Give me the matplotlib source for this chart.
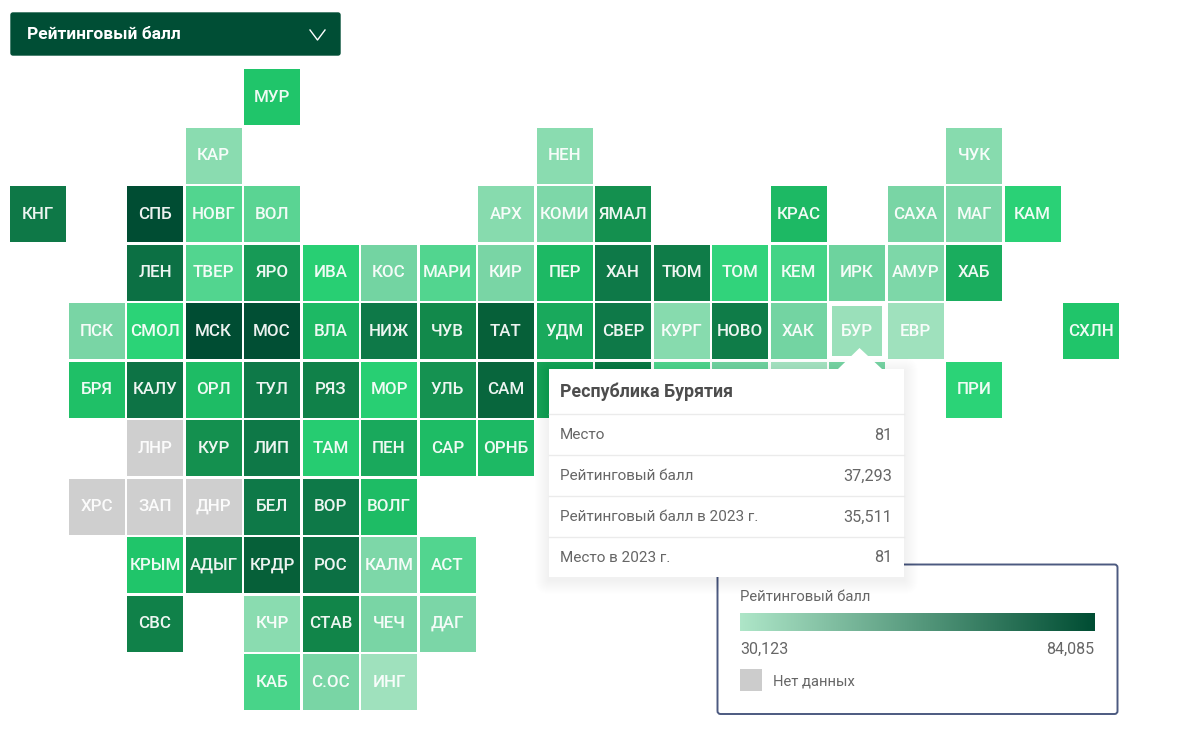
import numpy as np
import matplotlib
matplotlib.use('Agg')
import matplotlib.pyplot as plt
from matplotlib.colors import LinearSegmentedColormap, Normalize
from matplotlib.patches import FancyBboxPatch, Polygon, Rectangle

plt.rcParams['font.family'] = ['Roboto', 'DejaVu Sans']

# Data (grid position of each region, scores)
# labels of the six tiles behind the tooltip cannot be seen, so they stay empty
tile_codes = ['МУР',
              'КАР', 'НЕН', 'ЧУК',
              'КНГ', 'СПБ', 'НОВГ', 'ВОЛ', 'АРХ', 'КОМИ', 'ЯМАЛ', 'КРАС', 'САХА', 'МАГ', 'КАМ',
              'ЛЕН', 'ТВЕР', 'ЯРО', 'ИВА', 'КОС', 'МАРИ', 'КИР', 'ПЕР', 'ХАН', 'ТЮМ', 'ТОМ', 'КЕМ', 'ИРК', 'АМУР', 'ХАБ',
              'ПСК', 'СМОЛ', 'МСК', 'МОС', 'ВЛА', 'НИЖ', 'ЧУВ', 'ТАТ', 'УДМ', 'СВЕР', 'КУРГ', 'НОВО', 'ХАК', 'БУР', 'ЕВР', 'СХЛН',
              'БРЯ', 'КАЛУ', 'ОРЛ', 'ТУЛ', 'РЯЗ', 'МОР', 'УЛЬ', 'САМ', '', '', '', '', '', '', 'ПРИ',
              'ЛНР', 'КУР', 'ЛИП', 'ТАМ', 'ПЕН', 'САР', 'ОРНБ',
              'ХРС', 'ЗАП', 'ДНР', 'БЕЛ', 'ВОР', 'ВОЛГ',
              'КРЫМ', 'АДЫГ', 'КРДР', 'РОС', 'КАЛМ', 'АСТ',
              'СВС', 'КЧР', 'СТАВ', 'ЧЕЧ', 'ДАГ',
              'КАБ', 'С.ОС', 'ИНГ']
tile_cols = [4,
             3, 9, 16,
             0, 2, 3, 4, 8, 9, 10, 13, 15, 16, 17,
             2, 3, 4, 5, 6, 7, 8, 9, 10, 11, 12, 13, 14, 15, 16,
             1, 2, 3, 4, 5, 6, 7, 8, 9, 10, 11, 12, 13, 14, 15, 18,
             1, 2, 3, 4, 5, 6, 7, 8, 9, 10, 11, 12, 13, 14, 16,
             2, 3, 4, 5, 6, 7, 8,
             1, 2, 3, 4, 5, 6,
             2, 3, 4, 5, 6, 7,
             2, 4, 5, 6, 7,
             4, 5, 6]
tile_rows = [0] + [1] * 3 + [2] * 11 + [3] * 15 + [4] * 16 + [5] * 15 + [6] * 7 + [7] * 6 + [8] * 6 + [9] * 5 + [10] * 3
tile_scores = [58,
               40.5, 40.5, 41,
               73, 84, 50, 49, 41, 43, 68, 60, 44, 43, 54.5,
               75, 50, 66, 55, 45, 50, 44, 60, 72.5, 72, 53.5, 51.5, 46, 43, 62,
               44, 54, 84, 83.5, 60, 72.5, 69.5, 80, 63, 72.5, 41, 72, 45, 37.293, 36, 58,
               59, 74, 59.5, 72.5, 71, 55, 67.5, 78, 64, 72, 50, 45, 33, 44, 54,
               np.nan, 68, 73, 56, 63, 59.5, 60,
               np.nan, np.nan, np.nan, 72.5, 72.5, 59.5,
               58, 71, 80, 75, 43, 50,
               71, 40.5, 70, 44, 43.5,
               51, 44, 36]

score_min = 30.123
score_max = 84.085
tooltip_title = 'Республика Бурятия'
tooltip_names = ['Место', 'Рейтинговый балл', 'Рейтинговый балл в 2023 г.', 'Место в 2023 г.']
tooltip_values = ['81', '37,293', '35,511', '81']

# Colour scale of the tiles
stops = [30.123, 37, 41, 44, 47, 50, 54, 58, 62, 66, 70, 72.5, 75, 80, 84.085]
stop_colors = ['#aee6c8', '#9ce0bb', '#87dbae', '#78d5a5', '#68d29b', '#52d58f', '#2bd377',
               '#20c56a', '#1aad5e', '#179a56', '#118649', '#0e7a48', '#0c7044', '#066039', '#004d33']
norm = Normalize(score_min, score_max)
tile_cmap = LinearSegmentedColormap.from_list('tiles', [(norm(s), c) for s, c in zip(stops, stop_colors)])
legend_cmap = LinearSegmentedColormap.from_list('legend', ['#aee6c8', '#004d33'])

W, H = 1200, 731
fig = plt.figure(figsize=(W / 100, H / 100), dpi=100)

# Tile grid, one unit per tile
PITCH = 58.5
X0, Y0 = 10 - 1.25, 69 - 1.25
grid = fig.add_axes([X0 / W, 1 - (Y0 + 11 * PITCH) / H, 19 * PITCH / W, 11 * PITCH / H])
grid.set_xlim(0, 19)
grid.set_ylim(11, 0)
grid.axis('off')

gap = 2.5 / PITCH
for code, col, row, score in zip(tile_codes, tile_cols, tile_rows, tile_scores):
    color = '#cfcfcf' if np.isnan(score) else tile_cmap(norm(score))
    inset = gap / 2
    if code == 'БУР':
        inset += 2.6 / PITCH  # hovered tile
    grid.add_patch(Rectangle((col + inset, row + inset), 1 - 2 * inset, 1 - 2 * inset,
                             facecolor=color, edgecolor='none'))
    if code:
        grid.text(col + 0.5, row + 0.475, code, color='white', alpha=0.93, fontsize=12.2, fontweight=500,
                  ha='center', va='center_baseline')

# Everything else is in pixels, on top of the grid
ui = fig.add_axes([0, 0, 1, 1], facecolor='none')
ui.axis('off')

# Dropdown
ui.add_patch(FancyBboxPatch((11, 13), 329, 42, boxstyle='round,pad=0,rounding_size=2',
                            facecolor='#004e35', edgecolor='#004e35', lw=1))
ui.text(27, 34.5, 'Рейтинговый балл', color='white', fontsize=12.5, fontweight='bold', va='center')
ui.plot([310, 317.5, 325], [30, 40, 30], color='white', lw=1)

# Legend
ui.add_patch(FancyBboxPatch((717.5, 564.5), 400, 149.5, boxstyle='round,pad=0,rounding_size=3',
                            facecolor='white', edgecolor='#4c5a80', lw=1.4))
ui.text(740, 597, 'Рейтинговый балл', color='#666666', fontsize=10.7, va='center')
ui.imshow(np.linspace(0, 1, 256)[None, :], cmap=legend_cmap, extent=(740, 1095, 631, 613), aspect='auto', zorder=3)
ui.set_xlim(0, W)
ui.set_ylim(H, 0)
ui.text(740, 649.7, f'{score_min:.3f}'.replace('.', ','), color='#666666', fontsize=11.5, va='center')
ui.text(1094, 649.7, f'{score_max:.3f}'.replace('.', ','), color='#666666', fontsize=11.5, va='center', ha='right')
ui.add_patch(Rectangle((740, 669), 22, 22, facecolor='#cccccc', edgecolor='none'))
ui.text(773, 681, 'Нет данных', color='#666666', fontsize=10.65, va='center')

# Tooltip shadow, arrow and body
for grow in range(1, 15):
    ui.add_patch(FancyBboxPatch((549 - grow, 369 - grow + 3), 355 + 2 * grow, 208 + 2 * grow,
                                boxstyle=f'round,pad=0,rounding_size={grow}',
                                facecolor='black', edgecolor='none', alpha=0.004, zorder=4))
ui.add_patch(Polygon([(838, 369), (859.5, 348), (882, 369)], facecolor='white', edgecolor='none', zorder=4))
ui.add_patch(Rectangle((549, 369), 355, 208, facecolor='white', edgecolor='none', zorder=4))
ui.text(560, 391.5, tooltip_title, color='#4d4d4d', fontsize=12.8, fontweight='bold', va='center', zorder=5)
for i, (name, value) in enumerate(zip(tooltip_names, tooltip_values)):
    ui.plot([549, 904], [413.5 + 41 * i] * 2, color='#ebebeb', lw=1, zorder=5)
    ui.text(560, 435 + 41 * i, name, color='#666666', fontsize=11, va='center', zorder=5)
    ui.text(892, 435 + 41 * i, value, color='#666666', fontsize=11.7, va='center', ha='right', zorder=5)

fig.savefig('out.png', dpi=100, facecolor='white')
